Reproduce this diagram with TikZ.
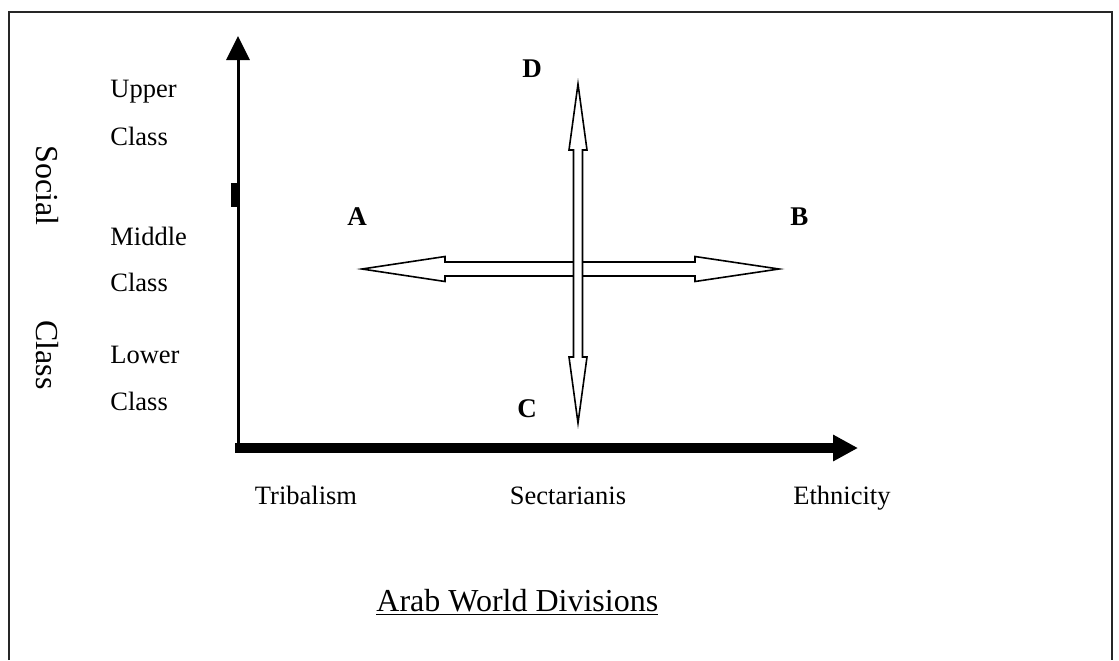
\documentclass[tikz,border=0pt]{standalone}
\usepackage{fontspec}
\setmainfont{Liberation Serif}
\usetikzlibrary{arrows.meta,positioning}

\begin{document}
\begin{tikzpicture}[x=0.5pt,y=-0.5pt,
  lbl/.style={inner sep=0pt,anchor=base west,font=\fontsize{13.25}{15}\selectfont},
  tag/.style={inner sep=0pt,anchor=base west,font=\fontsize{13.5}{15}\selectfont\bfseries},
  side/.style={inner sep=0pt,anchor=base west,rotate=-90,font=\fontsize{16}{18}\selectfont},
  hollow/.style={draw,line width=0.8pt,fill=white,line join=miter}]
 \useasboundingbox (0,0) rectangle (1119,660);
 % frame
 \draw[line width=1pt,black!85] (9,660) |- (1112,12) -- (1112,660);
 % axes
 \coordinate (o) at (238,448);
 \coordinate (ytip) at (238,36);
 \coordinate (xtip) at (858,448);
 \draw[line width=1.5pt,-{Triangle[length=12pt,width=11.5pt]}] (o) -- (ytip);
 \draw[line width=5pt,-{Triangle[length=12.5pt,width=12.5pt]}] ([xshift=-1.5pt]o) -- (xtip);
 \fill (231,183) rectangle (237,207);
 % levels
 \node[lbl] (upper)   at (110,97)  {Upper};
 \node[lbl] (upperc)  at (110,145) {Class};
 \node[lbl] (middle)  at (110,245) {Middle};
 \node[lbl] (middlec) at (110,291) {Class};
 \node[lbl] (lower)   at (110,363) {Lower};
 \node[lbl] (lowerc)  at (110,410) {Class};
 \node[side] (social) at (36,145) {Social};
 \node[side] (sclass) at (36,320) {Class};
 % divisions
 \node[lbl,anchor=base] (tribal) at (306,504) {Tribalism};
 \node[lbl,anchor=base] (sect)   at (568,504) {Sectarianis};
 \node[lbl,anchor=base] (ethnic) at (842,504) {Ethnicity};
 \node[side,rotate=90,anchor=base west] (title) at (376,611)
   {\underline{Arab World Divisions}};
 % cross
 \draw[hollow] (362,269) -- (445,256.5) -- (445,262) -- (695,262) -- (695,256.5)
   -- (779,269) -- (695,281.5) -- (695,276) -- (445,276) -- (445,281.5) -- cycle;
 \draw[hollow] (578,84) -- (569,150) -- (573.5,150) -- (573.5,357) -- (569,357)
   -- (578,423) -- (587,357) -- (582.5,357) -- (582.5,150) -- (587,150) -- cycle;
 \node[tag] (la) at (347,225) {A};
 \node[tag] (lb) at (790,225) {B};
 \node[tag] (lc) at (517,417) {C};
 \node[tag] (ld) at (522,77)  {D};
\end{tikzpicture}
\end{document}
